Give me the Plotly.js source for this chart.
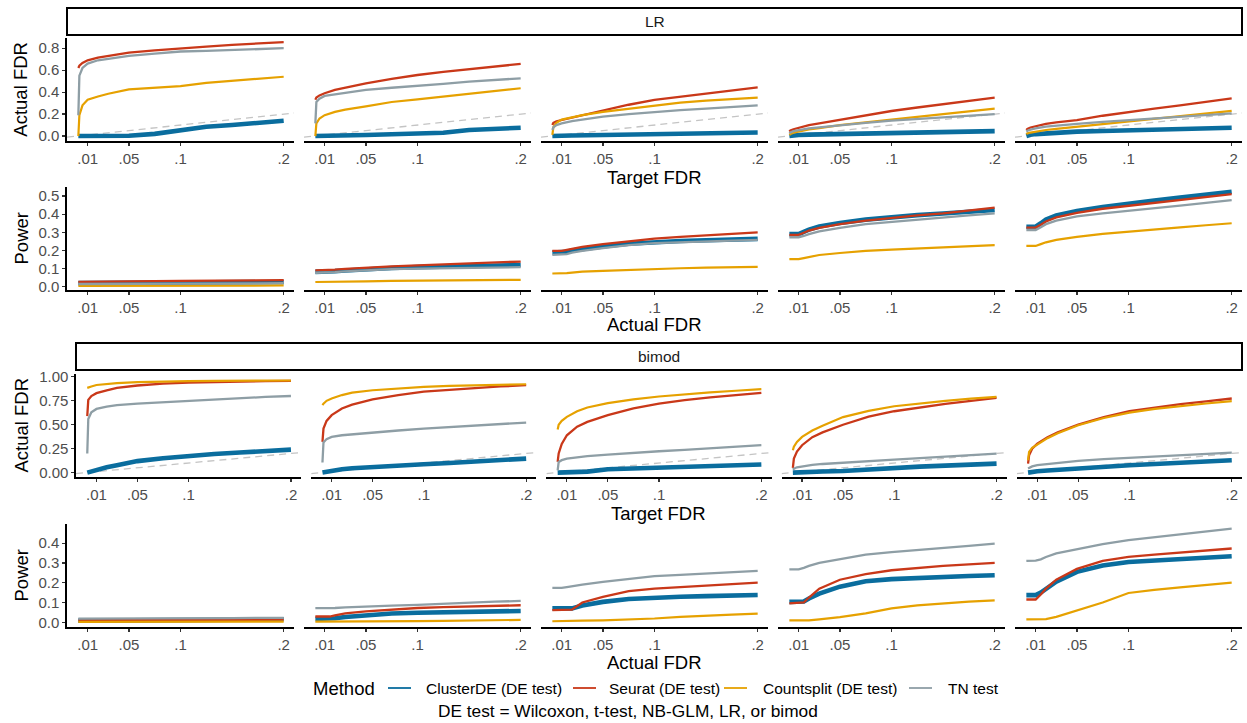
<!DOCTYPE html>
<html>
<head>
<meta charset="utf-8">
<script src="https://cdn.plot.ly/plotly-3.0.1.min.js"></script>
<style>html,body{margin:0;padding:0;background:#fff}#chart{width:1247px;height:723px}</style>
</head>
<body>
<div id="chart"></div>
<script>
// ---------------- DATA ----------------
const targetFDR = [0.001, 0.002, 0.005, 0.01, 0.02, 0.03, 0.05, 0.075, 0.1, 0.125, 0.15, 0.175, 0.2];
const actualFDR = [0.001, 0.01, 0.015, 0.02, 0.03, 0.05, 0.075, 0.1, 0.125, 0.15, 0.175, 0.2];
const refLine = [-0.01, 0.21];
const xTickVals = [0.01, 0.05, 0.1, 0.2];
const xTickText = ['.01', '.05', '.1', '.2'];
const methods = ['ClusterDE (DE test)', 'Seurat (DE test)', 'Countsplit (DE test)', 'TN test'];
const stripLabels = ['LR', 'bimod'];

// LR: Actual FDR vs Target FDR (5 panels each)
const lrFdrClusterDE = [
  [0,0,0,0,0,0,0.003,0.02,0.055,0.085,0.10,0.125,0.14],
  [0,0,0.002,0.003,0.005,0.007,0.01,0.017,0.024,0.03,0.055,0.065,0.076],
  [0,0.001,0.002,0.003,0.005,0.007,0.01,0.012,0.015,0.02,0.025,0.03,0.033],
  [0,0.002,0.006,0.01,0.013,0.015,0.018,0.021,0.024,0.03,0.036,0.041,0.045],
  [0,0.005,0.012,0.018,0.025,0.03,0.04,0.046,0.05,0.057,0.063,0.07,0.076]
];
const lrFdrSeurat = [
  [0.62,0.64,0.665,0.69,0.715,0.73,0.76,0.78,0.80,0.815,0.83,0.843,0.855],
  [0.33,0.35,0.37,0.39,0.42,0.44,0.48,0.52,0.556,0.585,0.61,0.635,0.657],
  [0.1,0.12,0.135,0.146,0.17,0.19,0.237,0.285,0.33,0.36,0.39,0.418,0.444],
  [0.04,0.05,0.062,0.076,0.1,0.115,0.146,0.19,0.228,0.26,0.29,0.32,0.35],
  [0.055,0.065,0.078,0.09,0.11,0.125,0.146,0.185,0.22,0.25,0.28,0.31,0.343]
];
const lrFdrCountsplit = [
  [0.0,0.19,0.28,0.33,0.36,0.385,0.425,0.44,0.455,0.485,0.505,0.52,0.54],
  [0.0,0.115,0.16,0.19,0.22,0.24,0.27,0.31,0.334,0.36,0.383,0.41,0.435],
  [0.01,0.08,0.12,0.15,0.17,0.19,0.22,0.25,0.28,0.305,0.322,0.335,0.35],
  [0.01,0.018,0.03,0.04,0.06,0.072,0.1,0.125,0.15,0.175,0.2,0.225,0.25],
  [0.018,0.025,0.032,0.04,0.055,0.065,0.085,0.108,0.13,0.155,0.18,0.205,0.23]
];
const lrFdrTN = [
  [0.19,0.55,0.62,0.66,0.69,0.705,0.73,0.75,0.77,0.775,0.785,0.795,0.80],
  [0.115,0.31,0.34,0.365,0.38,0.395,0.42,0.44,0.456,0.475,0.495,0.51,0.526],
  [0.055,0.08,0.1,0.115,0.135,0.15,0.176,0.2,0.22,0.236,0.25,0.265,0.28],
  [0.024,0.032,0.045,0.055,0.07,0.08,0.1,0.12,0.14,0.155,0.17,0.185,0.2],
  [0.04,0.048,0.058,0.07,0.085,0.095,0.11,0.13,0.146,0.16,0.175,0.19,0.207]
];

// LR: Power vs Actual FDR
const lrPowClusterDE = [
  [0.02,0.02,0.021,0.021,0.022,0.022,0.023,0.024,0.024,0.025,0.025,0.026],
  [0.082,0.082,0.083,0.086,0.09,0.097,0.103,0.108,0.111,0.114,0.117,0.12],
  [0.189,0.189,0.193,0.2,0.208,0.222,0.237,0.247,0.252,0.256,0.26,0.264],
  [0.29,0.29,0.303,0.315,0.332,0.352,0.37,0.384,0.395,0.404,0.413,0.423],
  [0.331,0.331,0.35,0.37,0.393,0.418,0.44,0.46,0.476,0.492,0.508,0.524]
];
const lrPowSeurat = [
  [0.027,0.027,0.028,0.028,0.029,0.03,0.031,0.032,0.033,0.034,0.035,0.036],
  [0.09,0.09,0.091,0.094,0.098,0.105,0.112,0.118,0.123,0.128,0.134,0.139],
  [0.198,0.198,0.203,0.21,0.22,0.235,0.252,0.265,0.275,0.284,0.292,0.3],
  [0.286,0.286,0.298,0.31,0.325,0.345,0.365,0.38,0.393,0.405,0.42,0.436],
  [0.326,0.326,0.342,0.36,0.382,0.407,0.43,0.447,0.463,0.479,0.495,0.511]
];
const lrPowCountsplit = [
  [0.004,0.004,0.004,0.005,0.005,0.005,0.006,0.006,0.006,0.007,0.007,0.007],
  [0.026,0.026,0.027,0.027,0.028,0.03,0.032,0.033,0.034,0.035,0.036,0.038],
  [0.073,0.073,0.075,0.078,0.083,0.088,0.094,0.099,0.102,0.105,0.108,0.11],
  [0.152,0.152,0.158,0.165,0.175,0.186,0.198,0.205,0.211,0.217,0.223,0.229],
  [0.225,0.225,0.235,0.245,0.258,0.275,0.292,0.305,0.316,0.327,0.339,0.35]
];
const lrPowTN = [
  [0.015,0.015,0.015,0.016,0.016,0.017,0.017,0.018,0.018,0.019,0.019,0.02],
  [0.077,0.077,0.078,0.081,0.085,0.092,0.097,0.1,0.102,0.104,0.106,0.108],
  [0.176,0.176,0.18,0.188,0.198,0.213,0.23,0.24,0.246,0.25,0.254,0.258],
  [0.273,0.273,0.28,0.29,0.305,0.325,0.345,0.358,0.37,0.382,0.393,0.405],
  [0.313,0.313,0.328,0.345,0.365,0.388,0.405,0.418,0.432,0.447,0.462,0.478]
];

// bimod: Actual FDR vs Target FDR
const bmFdrClusterDE = [
  [0.0,0.003,0.015,0.032,0.055,0.076,0.12,0.15,0.178,0.195,0.21,0.225,0.24],
  [0,0.002,0.012,0.024,0.035,0.045,0.06,0.075,0.087,0.1,0.118,0.132,0.146],
  [0,0,0,0,0,0.01,0.035,0.045,0.052,0.06,0.068,0.076,0.084],
  [0,0,0.002,0.004,0.008,0.012,0.017,0.035,0.052,0.062,0.073,0.084,0.094],
  [0,0.002,0.008,0.014,0.022,0.03,0.042,0.06,0.077,0.09,0.103,0.116,0.129]
];
const bmFdrSeurat = [
  [0.59,0.76,0.80,0.83,0.86,0.885,0.91,0.93,0.94,0.947,0.952,0.955,0.958],
  [0.32,0.46,0.54,0.6,0.67,0.71,0.765,0.81,0.845,0.865,0.885,0.9,0.913],
  [0.111,0.2,0.3,0.39,0.48,0.53,0.6,0.67,0.72,0.757,0.785,0.81,0.833],
  [0.049,0.146,0.22,0.286,0.37,0.42,0.5,0.585,0.641,0.68,0.718,0.75,0.78],
  [0.094,0.181,0.25,0.303,0.37,0.42,0.502,0.58,0.641,0.68,0.715,0.745,0.774]
];
const bmFdrCountsplit = [
  [0.885,0.89,0.90,0.915,0.928,0.935,0.945,0.953,0.956,0.958,0.96,0.961,0.962],
  [0.705,0.72,0.75,0.775,0.81,0.835,0.86,0.88,0.895,0.905,0.913,0.918,0.923],
  [0.45,0.5,0.54,0.582,0.64,0.68,0.725,0.765,0.795,0.818,0.838,0.855,0.871],
  [0.233,0.27,0.32,0.373,0.44,0.49,0.58,0.645,0.693,0.725,0.75,0.772,0.791],
  [0.129,0.216,0.26,0.293,0.36,0.41,0.495,0.57,0.627,0.665,0.697,0.722,0.746]
];
const bmFdrTN = [
  [0.2,0.56,0.63,0.665,0.69,0.705,0.72,0.735,0.745,0.76,0.775,0.79,0.80],
  [0.105,0.314,0.35,0.373,0.39,0.4,0.415,0.44,0.46,0.475,0.49,0.505,0.523],
  [0.024,0.111,0.13,0.146,0.16,0.172,0.188,0.207,0.223,0.237,0.252,0.27,0.286],
  [0.031,0.04,0.055,0.066,0.08,0.09,0.105,0.122,0.136,0.152,0.168,0.184,0.199],
  [0.042,0.05,0.065,0.077,0.09,0.1,0.122,0.14,0.153,0.167,0.181,0.195,0.209]
];

// bimod: Power vs Actual FDR
const bmPowClusterDE = [
  [0.008,0.008,0.008,0.009,0.009,0.01,0.01,0.011,0.012,0.013,0.014,0.015],
  [0.017,0.017,0.017,0.02,0.027,0.037,0.044,0.048,0.051,0.053,0.055,0.057],
  [0.07,0.068,0.068,0.07,0.085,0.103,0.118,0.125,0.129,0.132,0.135,0.138],
  [0.103,0.103,0.105,0.12,0.145,0.18,0.207,0.218,0.225,0.23,0.234,0.238],
  [0.137,0.137,0.15,0.17,0.205,0.255,0.287,0.305,0.313,0.32,0.327,0.334]
];
const bmPowSeurat = [
  [0.01,0.01,0.01,0.011,0.011,0.011,0.012,0.012,0.012,0.013,0.013,0.013],
  [0.029,0.029,0.029,0.035,0.045,0.055,0.065,0.072,0.077,0.08,0.083,0.086],
  [0.061,0.062,0.063,0.064,0.1,0.128,0.157,0.17,0.178,0.186,0.193,0.2],
  [0.095,0.096,0.1,0.125,0.17,0.215,0.243,0.263,0.275,0.285,0.293,0.3],
  [0.115,0.115,0.14,0.17,0.215,0.27,0.31,0.331,0.342,0.352,0.362,0.373]
];
const bmPowCountsplit = [
  [0.002,0.002,0.002,0.002,0.002,0.002,0.002,0.003,0.003,0.003,0.003,0.003],
  [0.003,0.003,0.003,0.003,0.004,0.004,0.005,0.006,0.007,0.008,0.01,0.012],
  [0.005,0.005,0.005,0.006,0.008,0.01,0.014,0.019,0.027,0.034,0.039,0.044],
  [0.01,0.01,0.01,0.01,0.015,0.026,0.045,0.07,0.085,0.095,0.104,0.111],
  [0.015,0.015,0.015,0.016,0.027,0.06,0.1,0.148,0.164,0.176,0.188,0.2]
];
const bmPowTN = [
  [0.018,0.018,0.018,0.019,0.019,0.019,0.02,0.02,0.021,0.021,0.022,0.022],
  [0.071,0.071,0.071,0.072,0.075,0.08,0.084,0.088,0.094,0.099,0.104,0.108],
  [0.174,0.174,0.178,0.183,0.19,0.204,0.22,0.233,0.24,0.247,0.254,0.26],
  [0.267,0.267,0.275,0.285,0.3,0.318,0.342,0.355,0.365,0.373,0.386,0.398],
  [0.31,0.312,0.318,0.33,0.348,0.37,0.395,0.415,0.43,0.445,0.46,0.474]
];

// ---------------- STYLE / LAYOUT ----------------
const W = 1247, H = 723;
const colors = ['#0A6D9E', '#C93819', '#E6A100', '#8E9EA5'];
const widths = [4.6, 2.3, 2.2, 2.3];
const FONT = 'Liberation Sans, Arial, Helvetica, sans-serif';
const px = v => v / W;
const py = v => 1 - v / H;

const rows = [
  {x: targetFDR, series: [lrFdrClusterDE, lrFdrSeurat, lrFdrCountsplit, lrFdrTN], ref: true,
   top: 38.3, bot: 141, yr: [-0.045, 0.89], yt: [0, 0.2, 0.4, 0.6, 0.8], fmt: '.1f', left: 67, pw: 227,
   ytitle: 'Actual FDR', xtitle: 'Target FDR', xty: 177},
  {x: actualFDR, series: [lrPowClusterDE, lrPowSeurat, lrPowCountsplit, lrPowTN], ref: false,
   top: 187, bot: 290, yr: [-0.018, 0.55], yt: [0, 0.1, 0.2, 0.3, 0.4, 0.5], fmt: '.1f', left: 67, pw: 227,
   ytitle: 'Power', xtitle: 'Actual FDR', xty: 324},
  {x: targetFDR, series: [bmFdrClusterDE, bmFdrSeurat, bmFdrCountsplit, bmFdrTN], ref: true,
   top: 374, bot: 477, yr: [-0.046, 1.03], yt: [0, 0.25, 0.5, 0.75, 1.0], fmt: '.2f', left: 76, pw: 225.2,
   ytitle: 'Actual FDR', xtitle: 'Target FDR', xty: 513},
  {x: actualFDR, series: [bmPowClusterDE, bmPowSeurat, bmPowCountsplit, bmPowTN], ref: false,
   top: 524, bot: 627, yr: [-0.024, 0.497], yt: [0, 0.1, 0.2, 0.3, 0.4], fmt: '.1f', left: 67, pw: 227,
   ytitle: 'Power', xtitle: 'Actual FDR', xty: 662}
];
const GAP = 10;

const traces = [];
const layout = {
  width: W, height: H, margin: {l: 0, r: 0, t: 0, b: 0},
  paper_bgcolor: '#fff', plot_bgcolor: '#fff', showlegend: false,
  font: {family: FONT, color: '#000'},
  shapes: [], annotations: []
};

rows.forEach((r, ri) => {
  for (let c = 0; c < 5; c++) {
    const n = ri * 5 + c + 1;
    const xs = n === 1 ? '' : String(n);
    const x0 = r.left + c * (r.pw + GAP);
    layout['xaxis' + xs] = {
      domain: [px(x0), px(x0 + r.pw)], range: [-0.01, 0.21], anchor: 'y' + xs,
      tickvals: xTickVals, ticktext: xTickText, showline: true, linecolor: '#000', linewidth: 1.6,
      ticks: 'outside', ticklen: 3, tickwidth: 1.2, tickcolor: '#333',
      tickfont: {size: 15, color: '#4D4D4D', family: FONT},
      showgrid: false, zeroline: false, fixedrange: true
    };
    layout['yaxis' + xs] = {
      domain: [py(r.bot), py(r.top)], range: r.yr, anchor: 'x' + xs,
      tickvals: r.yt, tickformat: r.fmt, showticklabels: c === 0,
      showline: c === 0, linecolor: '#000', linewidth: 1.6,
      ticks: c === 0 ? 'outside' : '', ticklen: 3, tickwidth: 1.2, tickcolor: '#333',
      tickfont: {size: 15, color: '#4D4D4D', family: FONT},
      showgrid: false, zeroline: false, fixedrange: true
    };
    if (r.ref) {
      traces.push({x: refLine, y: refLine, xaxis: 'x' + xs, yaxis: 'y' + xs, mode: 'lines',
        line: {color: '#C4C4C4', width: 1.3, dash: '7px,5px'}, hoverinfo: 'skip'});
    }
    r.series.forEach((s, si) => {
      traces.push({x: r.x, y: s[c], xaxis: 'x' + xs, yaxis: 'y' + xs, mode: 'lines', name: methods[si],
        line: {color: colors[si], width: widths[si]}});
    });
  }
  const right = r.left + 5 * r.pw + 4 * GAP;
  const cx = (r.left + right) / 2;
  layout.annotations.push({xref: 'paper', yref: 'paper', x: px(cx), y: py(r.xty), text: r.xtitle,
    showarrow: false, xanchor: 'center', yanchor: 'middle', font: {size: 18.5, color: '#000', family: FONT}});
  layout.annotations.push({xref: 'paper', yref: 'paper', x: px(21), y: py((r.top + r.bot) / 2), text: r.ytitle,
    textangle: -90, showarrow: false, xanchor: 'center', yanchor: 'middle', font: {size: 18.5, color: '#000', family: FONT}});
  if (ri === 0 || ri === 2) {
    const st = ri === 0 ? 8 : 343;
    layout.shapes.push({type: 'rect', xref: 'paper', yref: 'paper', x0: px(r.left), x1: px(right),
      y0: py(st + 27), y1: py(st), line: {color: '#000', width: 2}, fillcolor: '#fff'});
    layout.annotations.push({xref: 'paper', yref: 'paper', x: px(cx), y: py(st + 13.5), text: stripLabels[ri / 2],
      showarrow: false, xanchor: 'center', yanchor: 'middle', font: {size: 15.5, color: '#1A1A1A', family: FONT}});
  }
});

// legend (manual, ggplot style)
const legY = 688;
layout.annotations.push({xref: 'paper', yref: 'paper', x: px(311), y: py(legY), text: 'Method', showarrow: false,
  xanchor: 'left', yanchor: 'middle', font: {size: 18.5, color: '#000', family: FONT}});
const keyX = [388, 573, 724, 909];
const labX = [424, 607, 761, 946];
methods.forEach((m, i) => {
  layout.shapes.push({type: 'line', xref: 'paper', yref: 'paper', x0: px(keyX[i]), x1: px(keyX[i] + 23),
    y0: py(legY), y1: py(legY), line: {color: colors[i], width: 1.8}});
  layout.annotations.push({xref: 'paper', yref: 'paper', x: px(labX[i]), y: py(legY), text: m, showarrow: false,
    xanchor: 'left', yanchor: 'middle', font: {size: 15.5, color: '#000', family: FONT}});
});
layout.annotations.push({xref: 'paper', yref: 'paper', x: px(628), y: py(711),
  text: 'DE test = Wilcoxon, t-test, NB-GLM, LR, or bimod', showarrow: false,
  xanchor: 'center', yanchor: 'middle', font: {size: 17.3, color: '#000', family: FONT}});

Plotly.newPlot('chart', traces, layout, {staticPlot: true, displayModeBar: false});
</script>
</body>
</html>
